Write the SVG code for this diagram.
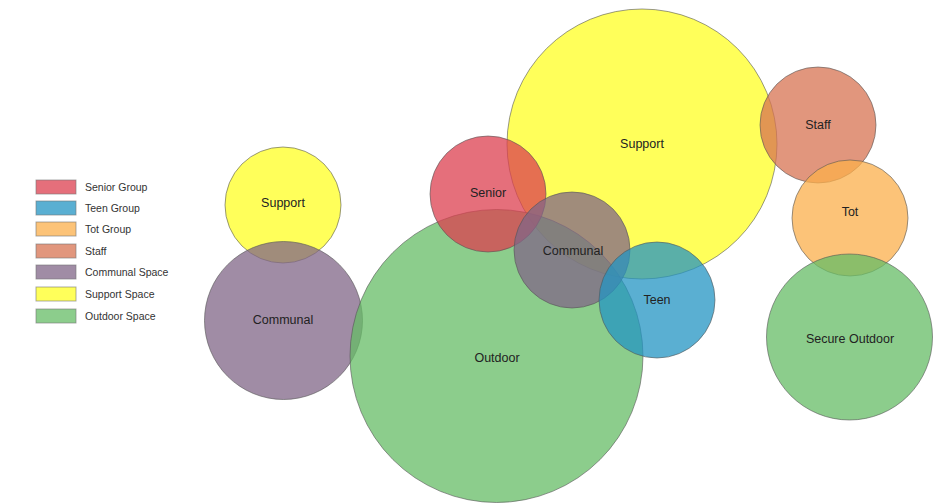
<svg xmlns="http://www.w3.org/2000/svg" width="948" height="503" viewBox="0 0 948 503">
<style>
.c{fill-opacity:0.75;stroke:#555;stroke-opacity:0.6;stroke-width:1}
.l{font-family:"Liberation Sans",Arial,sans-serif;font-size:12.5px;fill:#222;text-anchor:middle;dominant-baseline:central}
.lg{font-family:"Liberation Sans",Arial,sans-serif;font-size:10.5px;fill:#333;dominant-baseline:central}
.sw{stroke:#777;stroke-opacity:0.6;stroke-width:1;fill-opacity:0.75}
.sen{fill:#dc3f4f}.teen{fill:#2394c3}.tot{fill:#fbaf4b}.staff{fill:#d77352}.com{fill:#806687}.sup{fill:#ffff23}.out{fill:#66bc66}
</style>
<rect width="948" height="503" fill="#fff"/>
<g id="legend">
<rect class="sw sen" x="36" y="180" width="40" height="14"/><text class="lg" x="85" y="187">Senior Group</text>
<rect class="sw teen" x="36" y="201" width="40" height="14"/><text class="lg" x="85" y="208">Teen Group</text>
<rect class="sw tot" x="36" y="222" width="40" height="14"/><text class="lg" x="85" y="229">Tot Group</text>
<rect class="sw staff" x="36" y="244" width="40" height="14"/><text class="lg" x="85" y="251">Staff</text>
<rect class="sw com" x="36" y="265" width="40" height="14"/><text class="lg" x="85" y="272">Communal Space</text>
<rect class="sw sup" x="36" y="287" width="40" height="14"/><text class="lg" x="85" y="294">Support Space</text>
<rect class="sw out" x="36" y="309" width="40" height="14"/><text class="lg" x="85" y="316">Outdoor Space</text>
</g>
<g id="support-left"><circle class="c sup" cx="283" cy="205" r="58"/></g>
<g id="communal-left"><circle class="c com" cx="283.5" cy="320.5" r="79"/></g>
<g id="support-big"><circle class="c sup" cx="642" cy="144" r="135"/></g>
<g id="outdoor"><circle class="c out" cx="496.5" cy="356" r="146.5"/></g>
<g id="senior"><circle class="c sen" cx="488" cy="194" r="58"/></g>
<g id="communal"><circle class="c com" cx="572" cy="250" r="58"/></g>
<g id="teen"><circle class="c teen" cx="657" cy="300" r="58"/></g>
<g id="staff"><circle class="c staff" cx="818" cy="125" r="58"/></g>
<g id="tot"><circle class="c tot" cx="850" cy="218" r="58"/></g>
<g id="secure-outdoor"><circle class="c out" cx="849.5" cy="337" r="83"/></g>
<g id="labels">
<text class="l" x="283" y="203">Support</text>
<text class="l" x="283" y="320">Communal</text>
<text class="l" x="642" y="144">Support</text>
<text class="l" x="497" y="358">Outdoor</text>
<text class="l" x="488" y="193">Senior</text>
<text class="l" x="573" y="251">Communal</text>
<text class="l" x="657" y="300">Teen</text>
<text class="l" x="818" y="125">Staff</text>
<text class="l" x="850" y="212">Tot</text>
<text class="l" x="850" y="339">Secure Outdoor</text>
</g>
</svg>
